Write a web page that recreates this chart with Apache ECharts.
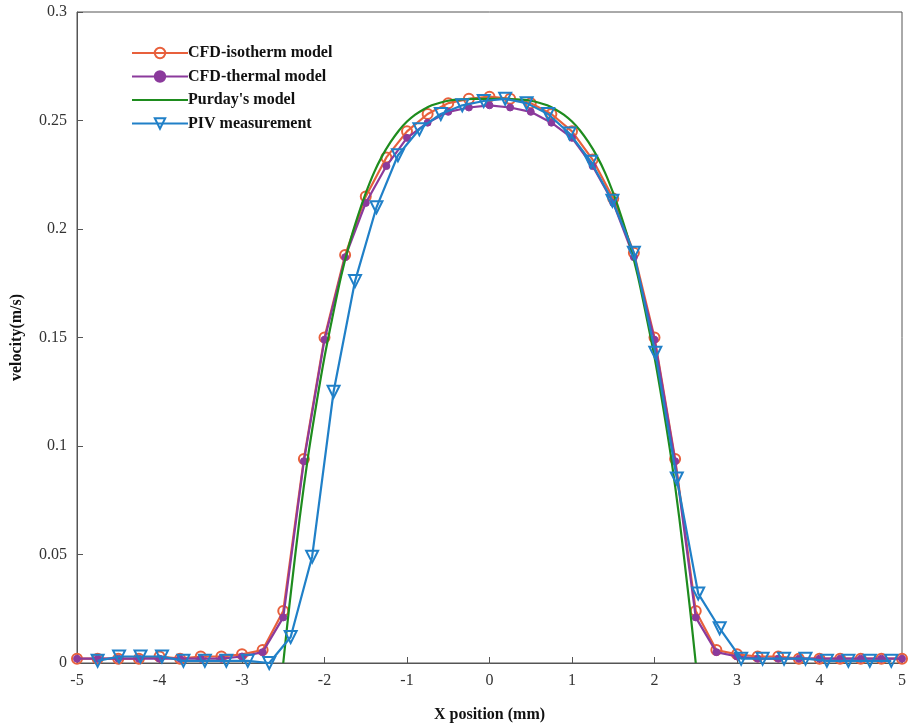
<!DOCTYPE html>
<html>
<head>
<meta charset="utf-8">
<script src="https://cdn.jsdelivr.net/npm/echarts@6/dist/echarts.min.js"></script>
<style>html,body{margin:0;padding:0;background:#fff}#c{width:909px;height:728px}</style>
</head>
<body>
<div id="c"></div>
<script>
const xCFD = [-5,-4.75,-4.5,-4.25,-4,-3.75,-3.5,-3.25,-3,-2.75,-2.5,-2.25,-2,-1.75,-1.5,-1.25,-1,-0.75,-0.5,-0.25,0,0.25,0.5,0.75,1,1.25,1.5,1.75,2,2.25,2.5,2.75,3,3.25,3.5,3.75,4,4.25,4.5,4.75,5];
const isotherm = [0.002,0.002,0.002,0.002,0.003,0.002,0.003,0.003,0.004,0.006,0.024,0.094,0.150,0.188,0.215,0.233,0.245,0.253,0.258,0.260,0.261,0.260,0.258,0.253,0.245,0.232,0.214,0.189,0.150,0.094,0.024,0.006,0.004,0.003,0.003,0.002,0.002,0.002,0.002,0.002,0.002];
const thermal = [0.002,0.002,0.002,0.002,0.002,0.002,0.002,0.002,0.003,0.005,0.021,0.093,0.149,0.187,0.212,0.229,0.242,0.249,0.254,0.256,0.257,0.256,0.254,0.249,0.242,0.229,0.212,0.187,0.149,0.093,0.021,0.005,0.003,0.002,0.002,0.002,0.002,0.002,0.002,0.002,0.002];
const xPurday = [-2.5,-2.45,-2.4,-2.3,-2.2,-2.1,-2.0,-1.9,-1.8,-1.7,-1.6,-1.5,-1.4,-1.3,-1.2,-1.1,-1.0,-0.9,-0.8,-0.7,-0.6,-0.5,-0.4,-0.3,-0.2,-0.1,0,0.1,0.2,0.3,0.4,0.5,0.6,0.7,0.8,0.9,1.0,1.1,1.2,1.3,1.4,1.5,1.6,1.7,1.8,1.9,2.0,2.1,2.2,2.3,2.4,2.45,2.5];
const purday = [0,0.018,0.035,0.067,0.095,0.119,0.141,0.160,0.178,0.193,0.2055,0.2165,0.226,0.2337,0.240,0.2453,0.2495,0.2527,0.2551,0.257,0.2582,0.2591,0.2596,0.2598,0.260,0.260,0.260,0.260,0.260,0.2598,0.2596,0.2591,0.2582,0.257,0.2551,0.2527,0.2495,0.2453,0.240,0.2337,0.226,0.2165,0.2055,0.193,0.178,0.160,0.141,0.119,0.095,0.067,0.035,0.018,0];
const xPIV = [-4.75,-4.49,-4.23,-3.97,-3.71,-3.45,-3.19,-2.93,-2.67,-2.41,-2.15,-1.89,-1.63,-1.37,-1.11,-0.85,-0.59,-0.33,-0.07,0.19,0.45,0.71,0.97,1.23,1.49,1.75,2.01,2.27,2.53,2.79,3.05,3.31,3.57,3.83,4.09,4.35,4.61,4.87];
const piv = [0.001,0.003,0.003,0.003,0.001,0.001,0.001,0.001,0.000,0.012,0.049,0.125,0.176,0.210,0.234,0.246,0.253,0.257,0.259,0.260,0.258,0.253,0.244,0.231,0.213,0.189,0.143,0.085,0.032,0.016,0.002,0.002,0.002,0.002,0.001,0.001,0.001,0.001];
const xTicks = [-5,-4,-3,-2,-1,0,1,2,3,4,5];
const seriesNames = ["CFD-isotherm model","CFD-thermal model","Purday's model","PIV measurement"];

const zip = (xs, ys) => xs.map((x, i) => [x, ys[i]]);
const font = "'Liberation Serif','Times New Roman',serif";
const chart = echarts.init(document.getElementById('c'));
chart.setOption({
  animation: false,
  backgroundColor: '#fff',
  grid: {left: 77, right: 7, top: 12, bottom: 61, show: true, borderColor: '#555', borderWidth: 1},
  legend: {
    left: 126, top: 40, orient: 'vertical', itemGap: 7.5, itemWidth: 56, itemHeight: 13,
    textStyle: {fontFamily: font, fontWeight: 'bold', fontSize: 16, color: '#111', padding: [0,0,0,-5]},
    data: [
      seriesNames[0], seriesNames[1],
      {name: seriesNames[2], itemStyle: {color: 'rgba(0,0,0,0)', borderWidth: 0}},
      seriesNames[3]
    ]
  },
  xAxis: {
    type: 'value', min: -5, max: 5, interval: 1,
    name: 'X position (mm)', nameLocation: 'middle', nameGap: 44,
    nameTextStyle: {fontFamily: font, fontWeight: 'bold', fontSize: 16, color: '#111'},
    axisLine: {onZero: false, lineStyle: {color: '#555'}},
    axisTick: {inside: true, length: 6, lineStyle: {color: '#555'}},
    axisLabel: {fontFamily: font, fontSize: 16, color: '#333', margin: 10,
      formatter: v => xTicks.includes(v) ? String(v) : ''},
    splitLine: {show: false}
  },
  yAxis: {
    type: 'value', min: 0, max: 0.3, interval: 0.05,
    name: 'velocity(m/s)', nameLocation: 'middle', nameGap: 52,
    nameTextStyle: {fontFamily: font, fontWeight: 'bold', fontSize: 16, color: '#111'},
    axisLine: {show: true, onZero: false, lineStyle: {color: '#555'}},
    axisTick: {show: true, inside: true, length: 6, lineStyle: {color: '#555'}},
    axisLabel: {fontFamily: font, fontSize: 16, color: '#333', margin: 10},
    splitLine: {show: false}
  },
  series: [
    {name: seriesNames[0], type: 'line', data: zip(xCFD, isotherm), z: 3,
     symbol: 'circle', symbolSize: 10, showAllSymbol: true,
     lineStyle: {color: '#E8603C', width: 2.2},
     itemStyle: {color: 'rgba(255,255,255,0)', borderColor: '#E8603C', borderWidth: 2}},
    {name: seriesNames[1], type: 'line', data: zip(xCFD, thermal), z: 4,
     symbol: 'circle', symbolSize: 7, showAllSymbol: true,
     lineStyle: {color: '#8B3A9C', width: 2.2},
     itemStyle: {color: '#8B3A9C', borderColor: '#8B3A9C', borderWidth: 1}},
    {name: seriesNames[2], type: 'line', data: zip(xPurday, purday), z: 5,
     symbol: 'none', smooth: 0.3,
     lineStyle: {color: '#1E8C1E', width: 2.2},
     itemStyle: {color: '#1E8C1E'}},
    {name: seriesNames[3], type: 'line', data: zip(xPIV, piv), z: 6,
     symbol: 'triangle', symbolRotate: 180, symbolSize: 12, showAllSymbol: true,
     lineStyle: {color: '#2080C8', width: 2.2},
     itemStyle: {color: 'rgba(255,255,255,0)', borderColor: '#2080C8', borderWidth: 2}}
  ]
});
</script>
</body>
</html>
